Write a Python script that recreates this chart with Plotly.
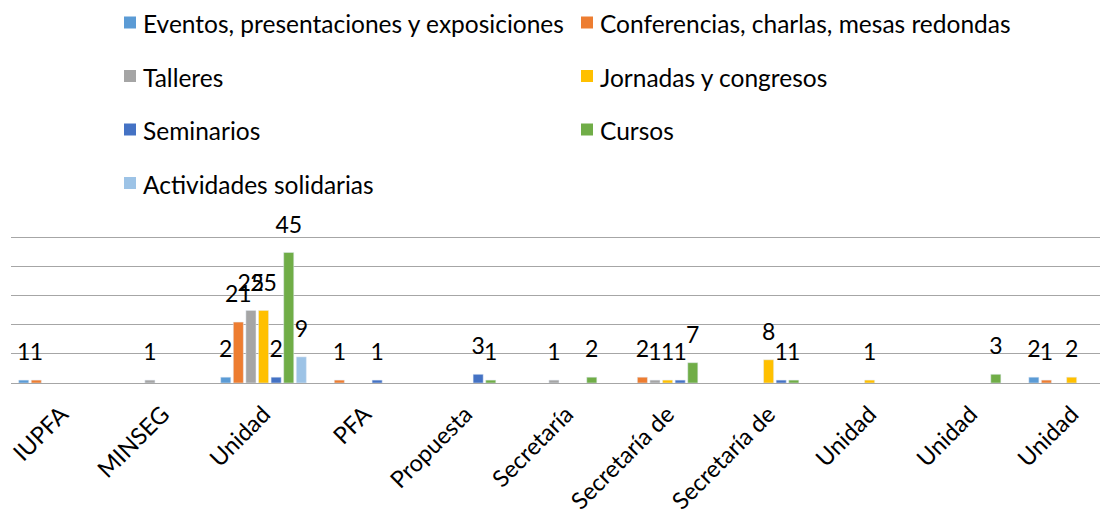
import plotly.graph_objs as go

categories = ["IUPFA", "MINSEG", "Unidad", "PFA", "Propuesta", "Secretaría",
              "Secretaría de", "Secretaría de", "Unidad", "Unidad", "Unidad"]

series_names = [
    "Eventos, presentaciones y exposiciones",
    "Conferencias, charlas, mesas redondas",
    "Talleres",
    "Jornadas y congresos",
    "Seminarios",
    "Cursos",
    "Actividades solidarias",
]

eventos = [1, None, 2, None, None, None, None, None, None, None, 2]
conferencias = [1, None, 21, 1, None, None, 2, None, None, None, 1]
talleres = [None, 1, 25, None, None, 1, 1, None, None, None, None]
jornadas = [None, None, 25, None, None, None, 1, 8, 1, None, 2]
seminarios = [None, None, 2, 1, 3, None, 1, 1, None, None, None]
cursos = [None, None, 45, None, 1, 2, 7, 1, None, 3, None]
solidarias = [None, None, 9, None, None, None, None, None, None, None, 1]

colors = ["#5B9BD5", "#ED7D31", "#A5A5A5", "#FFC000", "#4472C4", "#70AD47", "#9DC3E6"]

FONT = "Lato"
x_pos = list(range(len(categories)))
all_series = [eventos, conferencias, talleres, jornadas, seminarios, cursos, solidarias]

# figure geometry (page body adds an 8px margin around the figure)
W, H = 1100, 510
ML, MR, MT, MB = 3, 0, 227, 135
PW, PH = W - ML - MR, H - MT - MB


def px_x(x):
    return (x - 8 - ML) / PW


def px_y(y):
    return (H - MB - (y - 8)) / PH


fig = go.Figure()
for name, vals, col in zip(series_names, all_series, colors):
    fig.add_trace(go.Bar(
        x=x_pos, y=vals, name=name, marker_color=col, showlegend=False,
    ))

# data labels sit well above the bars, like the spreadsheet's label boxes
for name, vals in zip(series_names, all_series):
    fig.add_trace(go.Scatter(
        x=x_pos, y=vals, name=name, mode="markers+text", orientation="v",
        marker=dict(size=21, opacity=0),
        text=[v if v is not None else "" for v in vals],
        textposition="top center",
        textfont=dict(family=FONT, size=23, color="black"),
        cliponaxis=False, showlegend=False, hoverinfo="skip",
    ))

# legend in two columns, drawn as squares + text
shapes, annotations = [], []
col_x = [124, 581]
row_y = [22.5, 76, 129.5, 183]
for i, (name, col) in enumerate(zip(series_names, colors)):
    cx = col_x[i % 2]
    cy = row_y[i // 2]
    shapes.append(dict(type="rect", xref="paper", yref="paper",
                       x0=px_x(cx), x1=px_x(cx + 12), y0=px_y(cy - 6), y1=px_y(cy + 6),
                       fillcolor=col, line_width=0))
    annotations.append(dict(xref="paper", yref="paper", x=px_x(cx + 17), y=px_y(cy + 1),
                            xanchor="left", yanchor="middle", text=name, showarrow=False,
                            font=dict(family=FONT, size=24.5, color="black")))

fig.update_layout(
    width=W, height=H,
    margin={"l": ML, "r": MR, "t": MT, "b": MB},
    paper_bgcolor="white", plot_bgcolor="white",
    barmode="group", bargap=0.127, bargroupgap=0.2,
    scattermode="group", scattergap=0.127,
    font=dict(family=FONT, size=22, color="black"),
    showlegend=False,
    shapes=shapes, annotations=annotations,
    xaxis=dict(
        tickmode="array", tickvals=x_pos, ticktext=categories,
        range=[-0.5, 10.36], tickangle=-45, showgrid=False,
        showline=False, ticks="", ticklabelstandoff=12, automargin=False,
        ticklabeloverflow="allow",
        tickfont=dict(family=FONT, size=23.5, color="black"),
    ),
    yaxis=dict(
        range=[0, 51], tickvals=[10, 20, 30, 40, 50], showgrid=True,
        gridcolor="#A6A6A6", gridwidth=1,
        showticklabels=False, zeroline=True, zerolinecolor="#A6A6A6", zerolinewidth=1,
        showline=False, automargin=False,
    ),
)

fig.write_html("out.html")
